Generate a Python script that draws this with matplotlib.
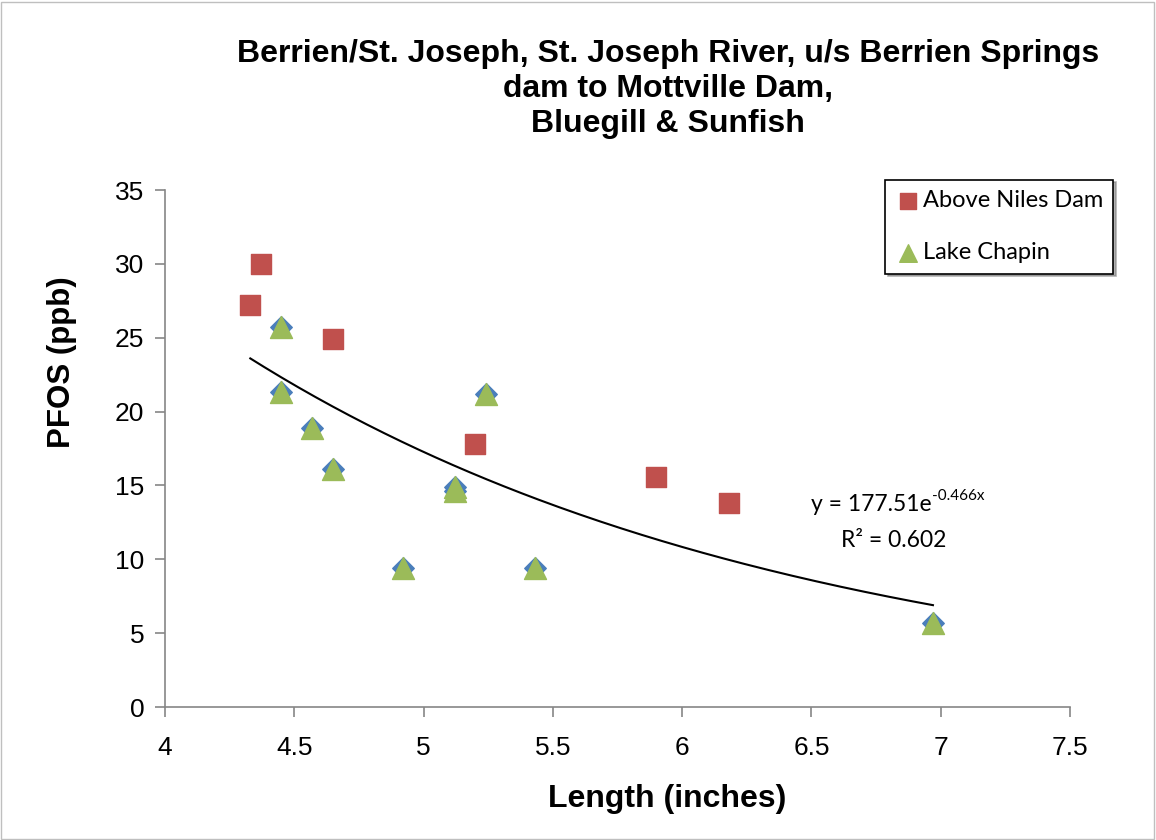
import numpy as np
import matplotlib.pyplot as plt
from matplotlib.patches import Rectangle

# Above Niles Dam
niles_x = [4.33, 4.37, 4.65, 5.20, 5.90, 6.18]
niles_y = [27.2, 30.0, 24.9, 17.8, 15.6, 13.8]

# Lake Chapin
chapin_x = [4.45, 4.45, 4.57, 4.65, 4.92, 5.12, 5.12, 5.24, 5.43, 6.97]
chapin_y = [25.7, 21.3, 18.9, 16.1, 9.4, 14.9, 14.6, 21.2, 9.4, 5.7]

# exponential trendline coefficients
trend_a = 177.51
trend_b = -0.466

fig = plt.figure(figsize=(11.56, 8.4), dpi=100)
fig.patches.append(Rectangle((0.001, 0.001), 0.997, 0.997, transform=fig.transFigure,
                             fill=False, edgecolor='#bfbfbf', linewidth=1))
ax = fig.add_axes([0.1427, 0.1583, 0.7829, 0.6155])

tx = np.linspace(min(niles_x), max(chapin_x), 200)
ax.plot(tx, trend_a * np.exp(trend_b * tx), color='black', linewidth=1.5, zorder=2)

ax.scatter(chapin_x, chapin_y, marker='D', s=120, color='#4a7ebb', zorder=3)
ax.scatter(chapin_x, chapin_y, marker='^', s=250, color='#9bbb59', zorder=4, label='Lake Chapin')
ax.scatter(niles_x, niles_y, marker='s', s=210, color='#c0504d', zorder=4, label='Above Niles Dam')

ax.set_xlim(4, 7.5)
ax.set_ylim(0, 35)
ax.set_xticks(np.arange(4, 7.51, 0.5))
ax.set_xticklabels(['4', '4.5', '5', '5.5', '6', '6.5', '7', '7.5'])
ax.set_yticks(np.arange(0, 36, 5))
for s in ['top', 'right']:
    ax.spines[s].set_visible(False)
for s in ['left', 'bottom']:
    ax.spines[s].set_color('#868686')
    ax.spines[s].set_linewidth(1.2)
ax.tick_params(direction='out', length=7, color='#868686', width=1.2,
               labelsize=19, labelfontfamily='Liberation Sans')
ax.tick_params(axis='x', pad=14)
ax.tick_params(axis='y', pad=8)

ax.set_xlabel('Length (inches)', fontsize=23, fontweight='bold', family='Liberation Sans')
ax.xaxis.set_label_coords(0.555, -0.148)
ax.set_ylabel('PFOS (ppb)', fontsize=22.5, fontweight='bold', family='Liberation Sans')
ax.yaxis.set_label_coords(-0.097, 0.667)

fig.text(0.578, 0.894, 'Berrien/St. Joseph, St. Joseph River, u/s Berrien Springs\n'
         'dam to Mottville Dam,\nBluegill & Sunfish', ha='center', va='center',
         fontsize=23, fontweight='bold', family='Liberation Sans', linespacing=1.22)

handles, labels = ax.get_legend_handles_labels()
leg = ax.legend(handles[::-1], labels[::-1], loc='upper right', bbox_to_anchor=(1.048, 1.02),
                prop={'family': 'Lato', 'size': 17}, frameon=True,
                fancybox=False, shadow={'color': '#808080', 'alpha': 0.6},
                edgecolor='black', markerscale=0.8, handletextpad=0.05,
                labelspacing=1.3, borderpad=0.45, handlelength=1.1, borderaxespad=0)
leg.get_frame().set_linewidth(1.2)

eq = ax.text(6.50, 13.7, 'y = 177.51e', fontsize=16.5, family='Lato', ha='left', va='center')
ax.annotate('-0.466x', xy=(1, 0.6), xycoords=eq, fontsize=11, family='Lato',
            ha='left', va='bottom')
ax.text(6.82, 11.3, 'R² = 0.602', fontsize=16.5, family='Lato', ha='center', va='center')

plt.savefig('out.png', dpi=100)
